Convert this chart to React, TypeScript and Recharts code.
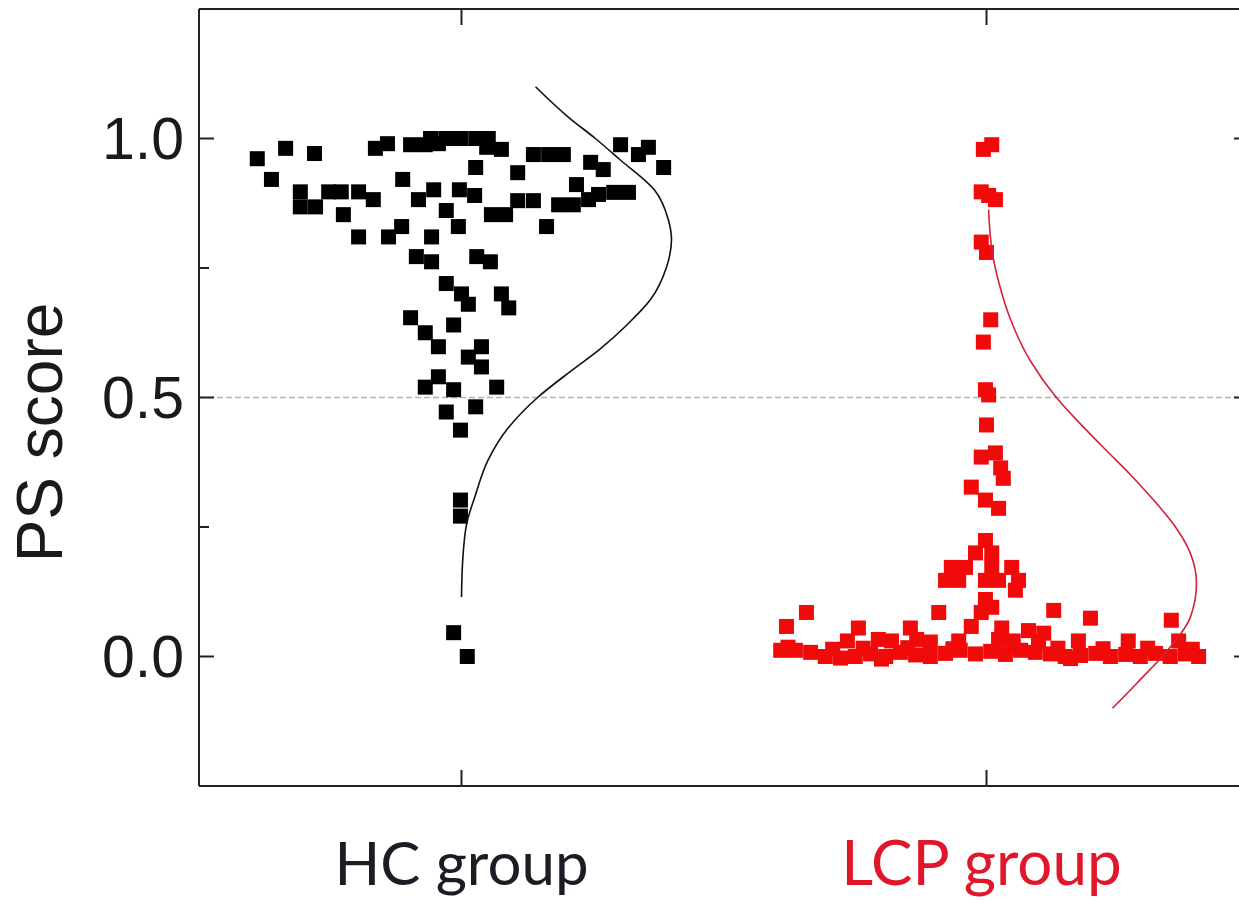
import React from 'react';
import { ScatterChart, Scatter, XAxis, YAxis, ReferenceLine } from 'recharts';

const categories = ['HC group', 'LCP group'];
const categoryPositions = [1, 2];
const categoryColors = ['#1c1c24', '#e0162b'];
const yTicks = [0, 0.5, 1.0];
const yMinorTicks = [0.25, 0.75];
const thresholdValue = 0.5;

const hcPoints = [
  { x: 0.611, y: 0.961 }, { x: 0.665, y: 0.981 }, { x: 0.720, y: 0.971 }, { x: 0.638, y: 0.921 },
  { x: 0.836, y: 0.981 }, { x: 0.859, y: 0.990 }, { x: 0.903, y: 0.988 }, { x: 0.931, y: 0.988 },
  { x: 0.941, y: 1.0 }, { x: 0.956, y: 0.990 }, { x: 0.970, y: 1.0 }, { x: 0.998, y: 1.0 },
  { x: 1.027, y: 1.0 }, { x: 1.051, y: 1.0 }, { x: 1.048, y: 0.983 }, { x: 1.076, y: 0.979 },
  { x: 1.137, y: 0.969 }, { x: 1.166, y: 0.969 }, { x: 1.194, y: 0.969 }, { x: 1.303, y: 0.988 },
  { x: 1.337, y: 0.969 }, { x: 1.356, y: 0.983 }, { x: 1.385, y: 0.944 }, { x: 1.246, y: 0.954 },
  { x: 1.270, y: 0.940 }, { x: 1.027, y: 0.944 }, { x: 1.107, y: 0.934 }, { x: 0.888, y: 0.921 },
  { x: 1.219, y: 0.911 }, { x: 0.693, y: 0.897 }, { x: 0.693, y: 0.868 }, { x: 0.722, y: 0.868 },
  { x: 0.747, y: 0.897 }, { x: 0.771, y: 0.897 }, { x: 0.804, y: 0.897 }, { x: 0.832, y: 0.882 },
  { x: 0.775, y: 0.853 }, { x: 0.947, y: 0.901 }, { x: 0.918, y: 0.882 }, { x: 0.971, y: 0.861 },
  { x: 0.996, y: 0.901 }, { x: 1.025, y: 0.890 }, { x: 1.057, y: 0.853 }, { x: 1.084, y: 0.853 },
  { x: 1.107, y: 0.880 }, { x: 1.137, y: 0.880 }, { x: 1.185, y: 0.872 }, { x: 1.213, y: 0.872 },
  { x: 1.242, y: 0.882 }, { x: 1.261, y: 0.892 }, { x: 1.290, y: 0.896 }, { x: 1.318, y: 0.896 },
  { x: 0.886, y: 0.830 }, { x: 1.162, y: 0.830 }, { x: 0.804, y: 0.810 }, { x: 0.861, y: 0.810 },
  { x: 0.943, y: 0.810 }, { x: 0.994, y: 0.830 }, { x: 0.914, y: 0.772 }, { x: 0.943, y: 0.762 },
  { x: 1.029, y: 0.772 }, { x: 1.055, y: 0.762 }, { x: 0.971, y: 0.720 }, { x: 1.000, y: 0.700 },
  { x: 1.013, y: 0.680 }, { x: 1.076, y: 0.700 }, { x: 1.090, y: 0.673 }, { x: 0.903, y: 0.654 },
  { x: 0.931, y: 0.625 }, { x: 0.956, y: 0.598 }, { x: 0.985, y: 0.640 }, { x: 1.038, y: 0.598 },
  { x: 1.013, y: 0.578 }, { x: 1.038, y: 0.559 }, { x: 0.931, y: 0.520 }, { x: 0.956, y: 0.540 },
  { x: 0.985, y: 0.515 }, { x: 1.067, y: 0.520 }, { x: 0.971, y: 0.472 }, { x: 1.027, y: 0.482 },
  { x: 0.998, y: 0.437 }, { x: 0.998, y: 0.302 }, { x: 0.998, y: 0.271 }, { x: 0.985, y: 0.046 },
  { x: 1.011, y: 0.0 },
];

const lcpPoints = [
  { x: 1.994, y: 0.979 }, { x: 2.010, y: 0.988 },
  { x: 1.990, y: 0.897 }, { x: 2.004, y: 0.890 }, { x: 2.017, y: 0.882 },
  { x: 1.990, y: 0.800 }, { x: 2.000, y: 0.780 },
  { x: 2.008, y: 0.650 }, { x: 1.994, y: 0.607 },
  { x: 1.998, y: 0.515 }, { x: 2.004, y: 0.505 }, { x: 2.000, y: 0.447 },
  { x: 1.990, y: 0.385 }, { x: 2.017, y: 0.393 }, { x: 2.027, y: 0.364 }, { x: 2.032, y: 0.344 },
  { x: 1.971, y: 0.327 }, { x: 1.998, y: 0.302 }, { x: 2.023, y: 0.286 },
  { x: 1.998, y: 0.224 }, { x: 1.979, y: 0.200 }, { x: 2.010, y: 0.200 },
  { x: 1.933, y: 0.172 }, { x: 1.960, y: 0.172 }, { x: 2.010, y: 0.172 }, { x: 2.048, y: 0.172 },
  { x: 1.922, y: 0.147 }, { x: 1.947, y: 0.147 }, { x: 1.998, y: 0.147 }, { x: 2.023, y: 0.147 },
  { x: 2.061, y: 0.147 }, { x: 2.055, y: 0.128 }, { x: 1.998, y: 0.110 }, { x: 2.010, y: 0.095 },
  { x: 1.657, y: 0.085 }, { x: 1.909, y: 0.085 }, { x: 1.990, y: 0.085 }, { x: 2.128, y: 0.089 },
  { x: 2.198, y: 0.074 }, { x: 2.352, y: 0.070 },
  { x: 1.619, y: 0.058 }, { x: 1.756, y: 0.055 }, { x: 1.855, y: 0.055 }, { x: 1.971, y: 0.058 },
  { x: 2.029, y: 0.055 }, { x: 2.080, y: 0.050 }, { x: 2.109, y: 0.045 },
  { x: 1.735, y: 0.030 }, { x: 1.794, y: 0.033 }, { x: 1.819, y: 0.030 }, { x: 1.867, y: 0.033 },
  { x: 1.893, y: 0.028 }, { x: 1.947, y: 0.030 }, { x: 2.023, y: 0.033 }, { x: 2.051, y: 0.030 },
  { x: 2.099, y: 0.028 }, { x: 2.175, y: 0.030 }, { x: 2.270, y: 0.030 }, { x: 2.366, y: 0.030 },
  { x: 1.608, y: 0.012 }, { x: 1.636, y: 0.012 }, { x: 1.665, y: 0.008 }, { x: 1.693, y: 0.0 },
  { x: 1.722, y: -0.003 }, { x: 1.750, y: 0.0 }, { x: 1.779, y: 0.005 }, { x: 1.808, y: 0.0 },
  { x: 1.836, y: 0.008 }, { x: 1.865, y: 0.003 }, { x: 1.893, y: 0.0 }, { x: 1.922, y: 0.006 },
  { x: 1.950, y: 0.012 }, { x: 1.979, y: 0.005 }, { x: 2.008, y: 0.010 }, { x: 2.036, y: 0.004 },
  { x: 2.065, y: 0.012 }, { x: 2.093, y: 0.008 }, { x: 2.122, y: 0.005 }, { x: 2.150, y: 0.0 },
  { x: 2.179, y: 0.002 }, { x: 2.208, y: 0.006 }, { x: 2.236, y: 0.0 }, { x: 2.265, y: 0.004 },
  { x: 2.293, y: 0.0 }, { x: 2.322, y: 0.006 }, { x: 2.350, y: 0.0 }, { x: 2.379, y: 0.005 },
  { x: 2.404, y: 0.0 },
  { x: 1.622, y: 0.018 }, { x: 1.707, y: 0.014 }, { x: 1.765, y: 0.016 }, { x: 1.850, y: 0.017 },
  { x: 1.936, y: 0.015 }, { x: 2.050, y: 0.018 }, { x: 2.136, y: 0.016 }, { x: 2.222, y: 0.015 },
  { x: 2.307, y: 0.016 }, { x: 2.392, y: 0.014 }, { x: 2.160, y: -0.004 }, { x: 1.800, y: -0.005 },
];

const hcCurve = [
  { x: 1.141, y: 1.10 }, { x: 1.205, y: 1.04 }, { x: 1.255, y: 1.0 }, { x: 1.302, y: 0.959 },
  { x: 1.368, y: 0.90 }, { x: 1.394, y: 0.843 }, { x: 1.400, y: 0.805 }, { x: 1.390, y: 0.75 },
  { x: 1.360, y: 0.689 }, { x: 1.315, y: 0.64 }, { x: 1.262, y: 0.592 }, { x: 1.207, y: 0.55 },
  { x: 1.145, y: 0.50 }, { x: 1.088, y: 0.44 }, { x: 1.051, y: 0.38 }, { x: 1.026, y: 0.31 },
  { x: 1.010, y: 0.257 }, { x: 1.002, y: 0.18 }, { x: 1.000, y: 0.115 },
];

const lcpCurve = [
  { x: 2.004, y: 0.863 }, { x: 2.011, y: 0.78 }, { x: 2.024, y: 0.72 }, { x: 2.046, y: 0.65 },
  { x: 2.084, y: 0.57 }, { x: 2.133, y: 0.50 }, { x: 2.178, y: 0.45 }, { x: 2.226, y: 0.40 },
  { x: 2.275, y: 0.35 }, { x: 2.320, y: 0.30 }, { x: 2.360, y: 0.25 }, { x: 2.388, y: 0.20 },
  { x: 2.400, y: 0.141 }, { x: 2.388, y: 0.075 }, { x: 2.345, y: 0.012 }, { x: 2.286, y: -0.052 },
  { x: 2.240, y: -0.10 },
];

const SQ = 15;
const blackSquare = (props: any) => (
  <rect x={props.cx - SQ / 2} y={props.cy - SQ / 2} width={SQ} height={SQ} fill="#000000" />
);
const redSquare = (props: any) => (
  <rect x={props.cx - SQ / 2} y={props.cy - SQ / 2} width={SQ} height={SQ} fill="#f00a0a" />
);
const noPoint = () => <g />;
const noTickLabel = () => <g />;

const XTick = (props: any) => {
  const { x, y, payload } = props;
  const i = categoryPositions.indexOf(payload.value);
  return (
    <text x={x} y={y} dx={i === 1 ? -5 : 0} dy={99} textAnchor="middle" fontFamily="Lato" fontSize={i === 1 ? 62 : 60} fill={categoryColors[i]}>
      {categories[i]}
    </text>
  );
};

const YLabel = (props: any) => {
  const vb = props.viewBox || { x: 0, y: 9, width: 199, height: 777 };
  const cx = vb.x + 40;
  const cy = vb.y + vb.height / 2 + 35;
  return (
    <text
      x={cx}
      y={cy}
      transform={`rotate(-90, ${cx}, ${cy})`}
      textAnchor="middle"
      dominantBaseline="central"
      fontFamily="Liberation Sans"
      fontSize={64}
      fill="#1a1a1a"
    >
      PS score
    </text>
  );
};

const xDomain: [number, number] = [0.5, 2.5];
const yDomain: [number, number] = [-0.25, 1.25];
const frame = { stroke: '#222', strokeWidth: 2 };

export default function App() {
  return (
    <div style={{ position: 'absolute', left: 0, top: 0, width: 1239, height: 900, overflow: 'hidden', background: '#fff' }}>
      <ScatterChart width={1262} height={900} margin={{ top: 9, right: 13, bottom: 0, left: 0 }}>
        <XAxis
          xAxisId="main"
          dataKey="x"
          type="number"
          domain={xDomain}
          ticks={categoryPositions}
          tick={<XTick />}
          tickLine={false}
          tickSize={0}
          tickMargin={0}
          axisLine={frame}
          height={114}
          allowDataOverflow
        />
        <XAxis
          xAxisId="bottomTicks"
          dataKey="x"
          type="number"
          domain={xDomain}
          ticks={categoryPositions}
          orientation="bottom"
          mirror
          tick={noTickLabel}
          tickSize={16}
          tickLine={frame}
          axisLine={false}
          height={1}
          allowDataOverflow
        />
        <XAxis
          xAxisId="top"
          dataKey="x"
          type="number"
          domain={xDomain}
          ticks={categoryPositions}
          orientation="top"
          mirror
          tick={noTickLabel}
          tickSize={16}
          tickLine={frame}
          axisLine={frame}
          height={1}
          allowDataOverflow
        />
        <YAxis
          yAxisId="main"
          dataKey="y"
          type="number"
          domain={yDomain}
          ticks={yTicks}
          tickFormatter={(v: number) => v.toFixed(1)}
          tick={{ fontSize: 59, fill: '#1a1a1a', fontFamily: 'Liberation Sans' }}
          tickLine={false}
          tickSize={0}
          tickMargin={15}
          axisLine={frame}
          width={199}
          label={<YLabel />}
          allowDataOverflow
        />
        <YAxis
          yAxisId="majorTicks"
          dataKey="y"
          type="number"
          domain={yDomain}
          ticks={yTicks}
          orientation="left"
          mirror
          tick={noTickLabel}
          tickSize={15}
          tickLine={frame}
          axisLine={false}
          width={1}
          allowDataOverflow
        />
        <YAxis
          yAxisId="minorTicks"
          dataKey="y"
          type="number"
          domain={yDomain}
          ticks={yMinorTicks}
          orientation="left"
          mirror
          tick={noTickLabel}
          tickSize={9}
          tickLine={frame}
          axisLine={false}
          width={1}
          allowDataOverflow
        />
        <YAxis
          yAxisId="right"
          dataKey="y"
          type="number"
          domain={yDomain}
          ticks={yTicks}
          orientation="right"
          mirror
          tick={noTickLabel}
          tickSize={15}
          tickLine={frame}
          axisLine={frame}
          width={1}
          allowDataOverflow
        />
        <ReferenceLine
          xAxisId="main"
          yAxisId="main"
          y={thresholdValue}
          stroke="#b4b4b4"
          strokeWidth={1.5}
          strokeDasharray="6 3"
        />
        <Scatter xAxisId="top" yAxisId="majorTicks" data={hcPoints} shape={noPoint} isAnimationActive={false} />
        <Scatter xAxisId="bottomTicks" yAxisId="minorTicks" data={hcPoints} shape={noPoint} isAnimationActive={false} />
        <Scatter xAxisId="main" yAxisId="right" data={hcPoints} shape={noPoint} isAnimationActive={false} />
        <Scatter
          xAxisId="main"
          yAxisId="main"
          data={hcPoints}
          shape={blackSquare}
          isAnimationActive={false}
        />
        <Scatter
          xAxisId="main"
          yAxisId="main"
          data={lcpPoints}
          shape={redSquare}
          isAnimationActive={false}
        />
        <Scatter
          xAxisId="main"
          yAxisId="main"
          data={hcCurve}
          shape={noPoint}
          line={{ stroke: '#111111', strokeWidth: 1.6, fill: 'none' }}
          lineJointType="monotoneY"
          isAnimationActive={false}
        />
        <Scatter
          xAxisId="main"
          yAxisId="main"
          data={lcpCurve}
          shape={noPoint}
          line={{ stroke: '#d3213a', strokeWidth: 1.6, fill: 'none' }}
          lineJointType="monotoneY"
          isAnimationActive={false}
        />
      </ScatterChart>
    </div>
  );
}
